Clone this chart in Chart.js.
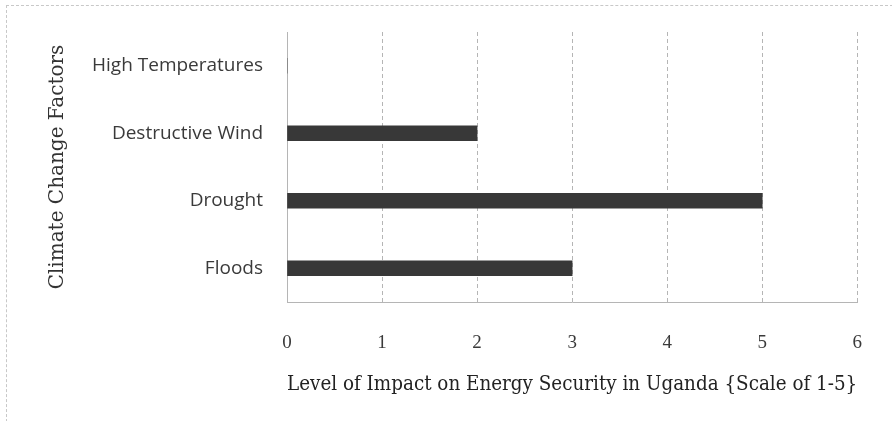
<!DOCTYPE html>
<html>
<head>
<meta charset="utf-8">
<script src="https://cdn.jsdelivr.net/npm/chart.js@4"></script>
<style>
  html, body { margin: 0; padding: 0; background: #fff; overflow: hidden; }
  #wrap { position: relative; width: 892px; height: 421px; overflow: hidden; }
  #frame { position: absolute; left: 6px; top: 5px; width: 900px; height: 430px; border: 1px dashed #c8c8c8; }
  canvas { position: absolute; left: 0; top: 0; }
</style>
</head>
<body>
<div id="wrap">
  <div id="frame"></div>
  <canvas id="chart-impact" width="892" height="421"></canvas>
</div>
<script>
const factors = ['High Temperatures', 'Destructive Wind', 'Drought', 'Floods'];
const impact = [0, 2, 5, 3];
const xTicks = [0, 1, 2, 3, 4, 5, 6];

(function () {
    const ctx = document.getElementById('chart-impact');
    const gridColor = '#b5b5b5';

    new Chart(ctx, {
        type: 'bar',
        data: {
            labels: factors,
            datasets: [{
                label: 'Impact',
                data: impact,
                backgroundColor: '#383838',
                borderWidth: 0,
                barThickness: 15
            }]
        },
        options: {
            indexAxis: 'y',
            responsive: false,
            animation: false,
            layout: { padding: { left: 46, right: 32, top: 32, bottom: 24 } },
            plugins: { legend: { display: false }, tooltip: { enabled: false } },
            scales: {
                x: {
                    min: xTicks[0],
                    max: xTicks[xTicks.length - 1],
                    afterBuildTicks: function (scale) {
                        scale.ticks = xTicks.map(v => ({ value: v }));
                    },
                    afterFit: function (scale) { scale.height = 95; },
                    grid: { color: gridColor, drawTicks: false },
                    border: { display: true, color: gridColor, dash: [4, 3] },
                    ticks: {
                        padding: 30,
                        color: '#3a3a3a',
                        font: { family: 'Liberation Serif', size: 19 }
                    },
                    title: {
                        display: true,
                        align: 'start',
                        text: 'Level of Impact on Energy Security in Uganda {Scale of 1-5}',
                        color: '#222',
                        font: { family: 'DejaVu Serif', size: 20 },
                        padding: { top: 10, bottom: 0 }
                    }
                },
                y: {
                    afterFit: function (scale) { scale.width = 287 - 46; },
                    grid: { display: false },
                    border: { display: true, color: gridColor, dash: [4, 3] },
                    ticks: {
                        padding: 16,
                        color: '#3a3a3a',
                        font: { family: 'Open Sans', size: 19 }
                    },
                    title: {
                        display: true,
                        text: 'Climate Change Factors',
                        color: '#333',
                        font: { family: 'DejaVu Serif', size: 20 },
                        padding: { top: 0, bottom: 0 }
                    }
                }
            }
        }
    });
})();
</script>
</body>
</html>
